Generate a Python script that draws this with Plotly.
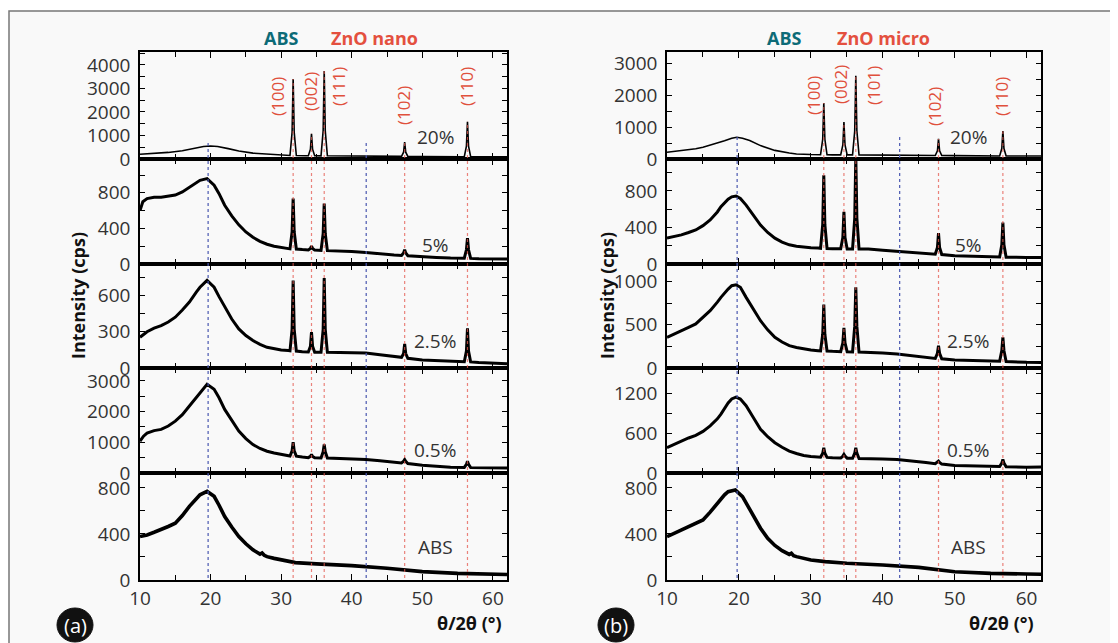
import plotly.graph_objects as go
from plotly.subplots import make_subplots

# ---------------- data (2theta, intensity) ----------------
A_20 = [(10,200),(12,235),(14,280),(16,350),(17.5,440),(19,530),(20,555),(21,530),(22.5,440),(24,340),(26,250),(28,200),(30,165),
        (31.25,150),(31.55,1130),(31.7,3400),(31.85,1130),(32.15,150),(33.5,140),(33.85,140),(34.15,420),(34.3,1070),(34.45,420),(34.75,140),
        (35.65,135),(35.95,1200),(36.1,3740),(36.25,1200),(36.55,135),(38,130),(40,128),(42,125),(45,118),
        (47.05,110),(47.35,290),(47.5,720),(47.65,290),(47.95,108),(50,100),(53,97),
        (55.95,95),(56.25,550),(56.4,1580),(56.55,550),(56.85,95),(58,95),(60,95),(62,95)]
A_5 = [(10,600),(10.4,700),(11,735),(12,750),(13,750),(14,760),(15,775),(16,810),(17,865),(18,920),(18.5,940),(19.5,960),(20.5,885),
       (21.2,790),(22,660),(23,540),(24,440),(25,360),(26,300),(27,255),(28,222),(29,200),(30,186),(31,172),
       (31.25,170),(31.55,360),(31.7,736),(31.85,360),(32.15,168),(33,162),(33.85,158),(34.15,175),(34.3,200),(34.45,175),(34.75,156),
       (35.65,152),(35.95,340),(36.1,680),(36.25,340),(36.55,150),(38,148),(40,140),(42,130),(44,112),(46,100),
       (47.05,96),(47.35,125),(47.5,160),(47.65,125),(47.95,93),(50,80),(52,74),(54,68),
       (55.95,66),(56.25,160),(56.4,290),(56.55,160),(56.85,63),(58,58),(60,56),(62,55)]
A_25 = [(10,254),(11,300),(12,330),(13,350),(14,380),(15,420),(16,480),(17,545),(18,630),(18.5,668),(19.5,724),(20.5,668),
        (21.2,590),(22,503),(23,405),(24,323),(25,268),(26,227),(27,195),(28,171),(29,158),(30,149),(31,144),
        (31.25,142),(31.55,320),(31.7,724),(31.85,320),(32.15,140),(33,135),(33.85,132),(34.15,180),(34.3,296),(34.45,180),(34.75,130),
        (35.65,130),(35.95,320),(36.1,743),(36.25,320),(36.55,130),(38,130),(40,127),(42,124),(44,110),(46,95),
        (47.05,88),(47.35,120),(47.5,199),(47.65,120),(47.95,80),(50,66),(52,60),(54,54),
        (55.95,52),(56.25,140),(56.4,329),(56.55,140),(56.85,50),(58,45),(60,39),(62,36)]
A_05 = [(10,1036),(10.5,1200),(11,1300),(12,1380),(13,1420),(14,1530),(15,1690),(16,1900),(17,2181),(18,2480),(18.5,2617),(19.5,2890),
        (20.5,2726),(21.2,2450),(22,2072),(23,1700),(24,1363),(25,1120),(26,927),(27,800),(28,709),(29,650),(30,600),(31,560),
        (31.25,555),(31.55,720),(31.7,1003),(31.85,720),(32.15,550),(33,520),(33.85,500),(34.15,540),(34.3,600),(34.45,540),(34.75,495),
        (35.65,490),(35.95,690),(36.1,927),(36.25,690),(36.55,488),(38,480),(40,460),(42,436),(44,400),(46,360),
        (47.05,330),(47.35,380),(47.5,436),(47.65,380),(47.95,310),(50,250),(52,215),(54,190),
        (55.95,180),(56.25,280),(56.4,382),(56.55,280),(56.85,175),(58,168),(60,164),(62,162)]
A_ABS = [(10,378),(11,392),(12,415),(13,436),(14,465),(15,494),(16,560),(17,640),(18,710),(18.5,741),(19.5,770),(20.5,727),
         (21.2,650),(22,552),(23,460),(24,378),(25,315),(26,262),(27,225),(27.3,235),(27.6,215),(28,203),(29,188),(30,174),
         (32,151),(35,140),(40,125),(45,102),(50,73),(55,58),(60,49),(62,48)]

B_20 = [(10,210),(12,260),(14,320),(15,368),(16,430),(17,500),(18,570),(19,650),(19.7,684),(20.5,650),(21.5,580),(23,420),(25,270),
        (27,190),(28,158),(30,140),(31.35,135),(31.65,620),(31.8,1760),(31.95,620),(32.25,132),(33,130),
        (34.15,130),(34.45,440),(34.6,1160),(34.75,440),(35.05,130),(35.8,128),(36.1,880),(36.25,2610),(36.4,880),(36.7,128),
        (38,126),(40,122),(42,120),(45,116),(47.3,110),(47.6,260),(47.75,630),(47.9,260),(48.2,108),(50,105),(53,100),
        (56.25,95),(56.55,330),(56.7,874),(56.85,330),(57.15,95),(59,95),(62,95)]
B_5 = [(10,283),(11,300),(12,319),(13,345),(14,373),(15,420),(16,482),(17,570),(17.5,627),(18.5,710),(19,736),(19.6,745),(20.2,717),
       (21,645),(22,535),(23,427),(24,345),(25,283),(26,240),(27,210),(28,195),(29,185),(30,178),(31,174),
       (31.35,172),(31.65,430),(31.8,971),(31.95,430),(32.25,170),(33,167),(34.15,166),(34.45,290),(34.6,572),(34.75,290),(35.05,165),
       (35.8,165),(36.1,500),(36.25,1170),(36.4,500),(36.7,165),(38,163),(40,150),(42,138),(44,125),(46,115),
       (47.3,108),(47.6,180),(47.75,337),(47.9,180),(48.2,104),(50,91),(52,85),(54,80),
       (56.25,76),(56.55,210),(56.7,453),(56.85,210),(57.15,75),(60,72),(62,70)]
B_25 = [(10,354),(11,395),(12,431),(13,470),(14,508),(15,580),(16,662),(17,760),(17.5,815),(18.5,910),(19,950),(19.6,960),(20.2,931),
        (21,815),(22,680),(23,546),(24,440),(25,354),(26,300),(27,258),(28,236),(29,219),(30,208),(31,200),
        (31.35,198),(31.65,390),(31.8,731),(31.95,390),(32.25,196),(33,192),(34.15,188),(34.45,290),(34.6,462),(34.75,290),(35.05,186),
        (35.8,185),(36.1,480),(36.25,931),(36.4,480),(36.7,184),(38,181),(40,172),(42,162),(44,142),(46,120),
        (47.3,110),(47.6,170),(47.75,258),(47.9,170),(48.2,106),(50,92),(52,86),(54,80),
        (56.25,77),(56.55,200),(56.7,354),(56.85,200),(57.15,75),(60,65),(62,63)]
B_05 = [(10,383),(11,435),(12,485),(13,530),(14,571),(15,630),(16,714),(17,820),(17.5,893),(18.5,1060),(19,1122),(19.6,1148),(20.2,1120),
        (21,1020),(22,840),(23,663),(24,550),(25,459),(26,390),(27,332),(28,295),(29,265),(30,250),(31,240),
        (31.35,238),(31.65,300),(31.8,383),(31.95,300),(32.25,236),(33,230),(34.15,226),(34.45,255),(34.6,281),(34.75,255),(35.05,224),
        (35.8,222),(36.1,300),(36.25,383),(36.4,300),(36.7,220),(38,219),(40,212),(42,204),(44,185),(46,160),
        (47.3,140),(47.6,160),(47.75,179),(47.9,160),(48.2,135),(50,112),(52,106),(54,102),
        (56.25,98),(56.55,150),(56.7,204),(56.85,150),(57.15,96),(60,87),(62,90)]
B_ABS = [(10,377),(11,405),(12,435),(13,465),(14,492),(15,522),(16,590),(17,667),(18,740),(18.5,768),(19.5,783),(20.5,725),
         (21.2,650),(22,551),(23,450),(24,362),(25,300),(26,255),(27,222),(27.3,232),(27.6,212),(28,203),(29,188),(30,174),
         (32,160),(35,145),(40,130),(45,110),(50,72),(55,58),(60,52),(62,50)]

SERIES_A = [A_20, A_5, A_25, A_05, A_ABS]
SERIES_B = [B_20, B_5, B_25, B_05, B_ABS]
ROW_LABELS = ["20%", "5%", "2.5%", "0.5%", "ABS"]
YMAX_A = [4550, 1180, 860, 3420, 930]
YMAX_B = [3360, 1150, 1200, 1590, 930]
DTICK_A = [1000, 400, 300, 1000, 400]
DTICK_B = [1000, 400, 500, 600, 400]

PEAKS_A = [31.7, 34.3, 36.1, 47.5, 56.4]
PEAK_H_A = [3400, 1070, 3740, 720, 1580]
HKL_A = ["(100)", "(002)", "(111)", "(102)", "(110)"]
PEAKS_B = [31.8, 34.6, 36.25, 47.75, 56.7]
PEAK_H_B = [1760, 1160, 2610, 630, 874]
HKL_B = ["(100)", "(002)", "(101)", "(102)", "(110)"]
BLUE_A = [19.65, 42.05]
BLUE_B = [19.75, 42.35]

# ---------------- layout helpers (screen px -> paper) ----------------
OFF = 8                      # page body margin of the browser
W, H = 1118 - OFF, 643 - OFF
ML, MT = 140 - OFF, 52 - OFF
MB = H - (580 - OFF)
MR = W - (1041 - OFF)
PW = W - ML - MR
PH = H - MT - MB

def px(x):
    return (x - OFF - ML) / PW

def py(y):
    return (H - MB - (y - OFF)) / PH

ROW_PX = [52, 159, 264, 368, 473, 580]
COL_PX = [(140, 507), (667, 1041)]
FONT = "Open Sans"
RED = "#e4503f"
TEAL = "#0d6b77"

fig = make_subplots(rows=5, cols=2, vertical_spacing=0, horizontal_spacing=0.1)

panels = [(SERIES_A, YMAX_A, DTICK_A), (SERIES_B, YMAX_B, DTICK_B)]
widths = [1.6, 3.0, 3.0, 3.0, 3.6]
for c, (series, ymaxs, dticks) in enumerate(panels):
    for r in range(5):
        idx = r * 2 + c + 1
        xs = [p[0] for p in series[r]]
        ys = [p[1] for p in series[r]]
        fig.add_trace(go.Scatter(x=xs, y=ys, mode="lines",
                                 line=dict(color="black", width=widths[r]),
                                 showlegend=False, hoverinfo="skip"),
                      row=r + 1, col=c + 1)
        xa = "xaxis" if idx == 1 else f"xaxis{idx}"
        ya = "yaxis" if idx == 1 else f"yaxis{idx}"
        fig.layout[xa].update(
            domain=[px(COL_PX[c][0]), px(COL_PX[c][1])], range=[10, 62],
            showline=True, linecolor="black", linewidth=1.5, mirror="ticks",
            ticks="inside", ticklen=6, tickwidth=1.3, tickcolor="black",
            tick0=0, dtick=10, showgrid=False, zeroline=False,
            showticklabels=(r == 4),
            tickfont=dict(family=FONT, size=19, color="#333"),
            minor=dict(ticks="inside", ticklen=5, dtick=5, tickcolor="black", tickwidth=1.3, showgrid=False))
        fig.layout[ya].update(
            domain=[py(ROW_PX[r + 1]), py(ROW_PX[r])], range=[0, ymaxs[r]],
            showline=True, linecolor="black", linewidth=1.5, mirror="ticks",
            ticks="inside", ticklen=5, tickwidth=1.3, tickcolor="black",
            tick0=0, dtick=dticks[r], showgrid=False, zeroline=False,
            ticklabelstandoff=4,
            tickfont=dict(family=FONT, size=19, color="#333"),
            minor=dict(ticks="inside", ticklen=5, dtick=dticks[r] / 2, tickcolor="black", tickwidth=1.2, showgrid=False))

shapes = []
# background frame
shapes.append(dict(type="rect", xref="paper", yref="paper", layer="below",
                   x0=px(9), x1=px(1140), y0=py(660), y1=py(11),
                   fillcolor="#f9f9f9", line=dict(color="#777", width=1.5)))

# dotted reference lines
def vline(xref, x, ytop, color):
    shapes.append(dict(type="line", xref=xref, yref="paper", x0=x, x1=x,
                       y0=py(578), y1=ytop, layer="above",
                       line=dict(color=color, width=1.2, dash="dot")))

top0, top1 = py(ROW_PX[1]), py(ROW_PX[0])
for x, h in zip(PEAKS_A, PEAK_H_A):
    vline("x9", x, top0 + h / YMAX_A[0] * (top1 - top0), "rgba(228,90,80,0.75)")
for x, h in zip(PEAKS_B, PEAK_H_B):
    vline("x10", x, top0 + h / YMAX_B[0] * (top1 - top0), "rgba(228,90,80,0.75)")
for x in BLUE_A:
    vline("x9", x, py(140), "#4a58b0")
for x in BLUE_B:
    vline("x10", x, py(135), "#4a58b0")

# panel badges
for cx, cy in [(75, 625), (616, 625)]:
    shapes.append(dict(type="circle", xref="paper", yref="paper",
                       x0=px(cx - 18), x1=px(cx + 18), y0=py(cy + 17), y1=py(cy - 17),
                       fillcolor="#111", line=dict(color="#111", width=1)))

ann = []
def text(x, y, s, size=19, color="#333", bold=False, angle=0, xanchor="center"):
    ann.append(dict(x=px(x), y=py(y), xref="paper", yref="paper", text=f"<b>{s}</b>" if bold else s,
                    showarrow=False, textangle=angle, xanchor=xanchor, yanchor="middle",
                    font=dict(family=FONT, size=size, color=color)))

text(281, 38, "ABS", 18, TEAL, True)
text(374, 38, "ZnO nano", 18, RED, True)
text(784, 38, "ABS", 18, TEAL, True)
text(883, 38, "ZnO micro", 18, RED, True)

for lab, (x, y) in zip(HKL_A, [(278, 97), (310, 92), (338, 87), (403, 106), (466, 87)]):
    text(x, y, lab, 17, "#e0503c", angle=-90)
for lab, (x, y) in zip(HKL_B, [(813, 96), (840, 85), (873, 86), (935, 107), (1002, 97)]):
    text(x, y, lab, 17, "#e0503c", angle=-90)

for lab, y in zip(ROW_LABELS, [137, 245, 341, 450, 547]):
    text(435, y, lab, 19, "#333")
    text(968, y, lab, 19, "#333")

text(78, 296, "Intensity (cps)", 18, "#111", True, angle=-90)
text(607, 296, "Intensity (cps)", 18, "#111", True, angle=-90)
text(504, 623, "θ/2θ (°)", 18, "#111", True, xanchor="right")
text(1036, 623, "θ/2θ (°)", 18, "#111", True, xanchor="right")
text(75, 625, "(a)", 20, "white")
text(616, 625, "(b)", 20, "white")

fig.update_layout(width=W, height=H, margin=dict(l=ML, r=MR, t=MT, b=MB),
                  paper_bgcolor="white", plot_bgcolor="rgba(0,0,0,0)",
                  shapes=shapes, annotations=ann, showlegend=False,
                  font=dict(family=FONT, color="#333"))

fig.write_html("out.html")
